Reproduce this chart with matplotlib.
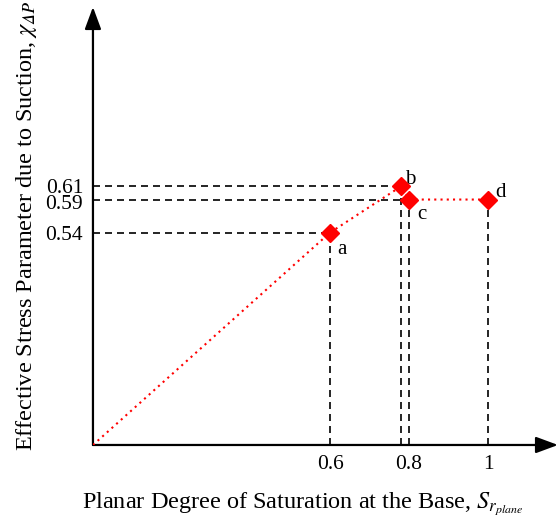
import matplotlib.pyplot as plt
from matplotlib.transforms import ScaledTranslation

plt.rcParams['font.family'] = ['Liberation Serif', 'DejaVu Serif']
plt.rcParams['mathtext.fontset'] = 'stix'

# points on the chi - saturation path
point_names = ['a', 'b', 'c', 'd']
sr_plane = [0.6, 0.78, 0.8, 1.0]
chi = [0.54, 0.61, 0.59, 0.59]

x_ticks = [0.6, 0.8, 1.0]
x_tick_labels = ['0.6', '0.8', '1']
y_ticks = [0.54, 0.59, 0.61]
y_tick_labels = ['0.54', '0.59', '0.61']

# axes window (the vertical axis starts above zero so the upper values spread out)
X_MIN, X_MAX = 0.0, 1.177
Y_MIN, Y_MAX = 0.219, 0.881

fig = plt.figure(figsize=(5.6, 5.24), dpi=100)
ax = fig.add_axes([0.166, 0.1508, 0.8304, 0.8358])
ax.set_xlim(X_MIN, X_MAX)
ax.set_ylim(Y_MIN, Y_MAX)
for s in ax.spines.values():
    s.set_visible(False)

# axis arrows
arrow = dict(arrowstyle='-|>,head_length=1.35,head_width=0.5', color='black',
             lw=1.6, shrinkA=0, shrinkB=0)
ax.annotate('', xy=(1, 0), xytext=(0, 0), xycoords='axes fraction', arrowprops=arrow)
ax.annotate('', xy=(0, 1), xytext=(0, 0), xycoords='axes fraction', arrowprops=arrow)

# guide lines to both axes
dash = dict(color='black', lw=1.2, dashes=(4.2, 3.0), zorder=2)
for x, y in zip(sr_plane, chi):
    ax.plot([x, x], [Y_MIN, y], **dash)
for x, y in zip(sr_plane[:3], chi[:3]):
    ax.plot([X_MIN, x], [y, y], **dash)

# path from the origin through a-b-c-d
ax.plot([X_MIN] + sr_plane, [Y_MIN] + chi, color='red', lw=1.5, ls=(0, (1, 2)), zorder=3)
ax.plot(sr_plane, chi, ls='none', marker='D', ms=9, color='red', zorder=4)

offsets = {'a': (5, -12), 'b': (3, 5), 'c': (6, -11), 'd': (5, 5)}
for name, x, y in zip(point_names, sr_plane, chi):
    ax.annotate(name, xy=(x, y), xytext=offsets[name], textcoords='offset points',
                fontsize=15, ha='left', va='center')

ax.set_xticks(x_ticks)
ax.set_xticklabels(x_tick_labels)
ax.set_yticks(y_ticks)
ax.set_yticklabels(y_tick_labels)
ax.tick_params(length=0, labelsize=15.5, pad=7)

# 0.59 and 0.61 sit close together, push the lower one down a touch
lbl = ax.get_yticklabels()[1]
lbl.set_transform(lbl.get_transform() + ScaledTranslation(0, -2 / 72, fig.dpi_scale_trans))

ax.set_xlabel(r'Planar Degree of Saturation at the Base, $S_{r_{plane}}$', fontsize=17.5)
ax.xaxis.set_label_coords(0.452, -0.104)
ax.set_ylabel('Effective Stress Parameter due to Suction, $\\chi_{𝛥𝑃}$', fontsize=17.5)
ax.yaxis.set_label_coords(-0.115, 0.5)

fig.savefig('out.png', dpi=100)
